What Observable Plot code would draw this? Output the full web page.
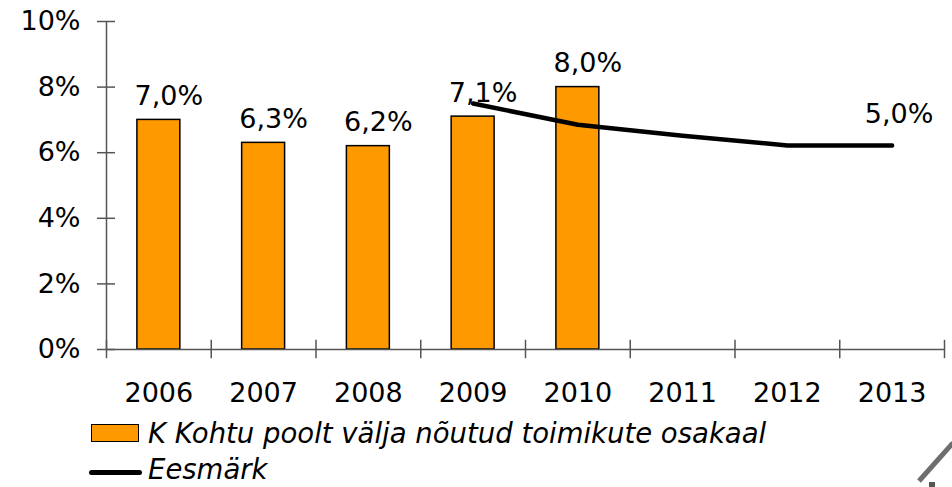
<!DOCTYPE html>
<html>
<head>
<meta charset="utf-8">
<script src="https://cdn.jsdelivr.net/npm/d3@7"></script>
<script src="https://cdn.jsdelivr.net/npm/@observablehq/plot@0.6"></script>
<style>
  html, body { margin: 0; padding: 0; background: #fff; }
  #wrap { position: relative; width: 952px; height: 487px; overflow: hidden; font-family: "DejaVu Sans", Verdana, sans-serif; }
  #chart { position: absolute; left: 0; top: 0; }
  .leg { position: absolute; font-style: italic; font-size: 27.5px; color: #000; white-space: nowrap; line-height: 1; }
  .sw-bar { position: absolute; left: 91px; top: 424px; width: 46px; height: 16px; background: #FF9900; border: 1.5px solid #000; }
  .sw-line { position: absolute; left: 89px; top: 470px; width: 53px; height: 5px; background: #000; border-radius: 3px; }
  #deco { position: absolute; left: 0; top: 0; }
</style>
</head>
<body>
<div id="wrap">
  <div id="chart"></div>
  <div class="sw-bar"></div>
  <div class="leg" id="leg1" style="left:148px; top:420px;"></div>
  <div class="sw-line"></div>
  <div class="leg" id="leg2" style="left:148px; top:456px;"></div>
  <svg id="deco" width="952" height="487">
    <line x1="919" y1="481" x2="953" y2="443" stroke="#6e6e6e" stroke-width="5"/>
    <rect x="929" y="482" width="6" height="6" fill="#555"/>
  </svg>
</div>
<script>
// ---- data ----
const years = ["2006", "2007", "2008", "2009", "2010", "2011", "2012", "2013"];
const shareYears = ["2006", "2007", "2008", "2009", "2010"];
const shareValues = [7.0, 6.3, 6.2, 7.1, 8.0];
const shareLabels = ["7,0%", "6,3%", "6,2%", "7,1%", "8,0%"];
const targetYears = ["2009", "2010", "2011", "2012", "2013"];
const targetValues = [7.5, 6.85, 6.52, 6.22, 6.22];
const targetLabels = ["", "", "", "", "5,0%"];
const yTicks = [0, 2, 4, 6, 8, 10];
const seriesNames = ["K Kohtu poolt välja nõutud toimikute osakaal", "Eesmärk"];

document.getElementById("leg1").textContent = seriesNames[0];
document.getElementById("leg2").textContent = seriesNames[1];

const bars = shareYears.map((year, i) => ({year, value: shareValues[i], label: shareLabels[i]}));
const target = targetYears.map((year, i) => ({year, value: targetValues[i], label: targetLabels[i]}));

const W = 952, ML = 106, MR = 8;
const halfStep = (W - ML - MR) / years.length / 2;
const axisColor = "#555";

const plot = Plot.plot({
  width: W,
  height: 420,
  marginLeft: ML,
  marginRight: MR,
  marginTop: 21,
  marginBottom: 71,
  style: {fontFamily: "DejaVu Sans, Verdana, sans-serif", fontSize: "27px", color: "#000", background: "transparent", overflow: "visible"},
  x: {domain: years, paddingInner: 0.59, paddingOuter: 0.295, align: 0.5, round: false, label: null},
  y: {domain: [0, 10], label: null},
  marks: [
    Plot.barY(bars, {x: "year", y: "value", fill: "#FF9900", stroke: "#000", strokeWidth: 1.5}),
    Plot.ruleY([0], {stroke: axisColor, strokeWidth: 1.5}),
    Plot.ruleX(["2006"], {dx: -halfStep, y1: 0, y2: 10, stroke: axisColor, strokeWidth: 1.5}),
    Plot.ruleX(years, {dx: -halfStep, y1: -0.28, y2: 0.28, stroke: axisColor, strokeWidth: 1.5}),
    Plot.ruleX(["2013"], {dx: halfStep, y1: -0.28, y2: 0.28, stroke: axisColor, strokeWidth: 1.5}),
    Plot.axisY(yTicks, {tickSize: 18, dx: 9, tickPadding: 17, stroke: axisColor, strokeWidth: 1.5, tickFormat: d => d + "%", fill: "#000", label: null}),
    Plot.axisX({tickSize: 0, tickPadding: 33, fill: "#000", label: null}),
    Plot.line(target, {x: "year", y: "value", stroke: "#000", strokeWidth: 4.5, strokeLinecap: "round", strokeLinejoin: "round"}),
    Plot.text(bars, {x: "year", y: "value", text: "label", dx: 10, dy: -15, lineAnchor: "bottom", fill: "#000"}),
    Plot.text(target, {x: "year", y: "value", text: "label", dx: 7, dy: -22, lineAnchor: "bottom", fill: "#000"})
  ]
});
document.getElementById("chart").appendChild(plot);
</script>
</body>
</html>
